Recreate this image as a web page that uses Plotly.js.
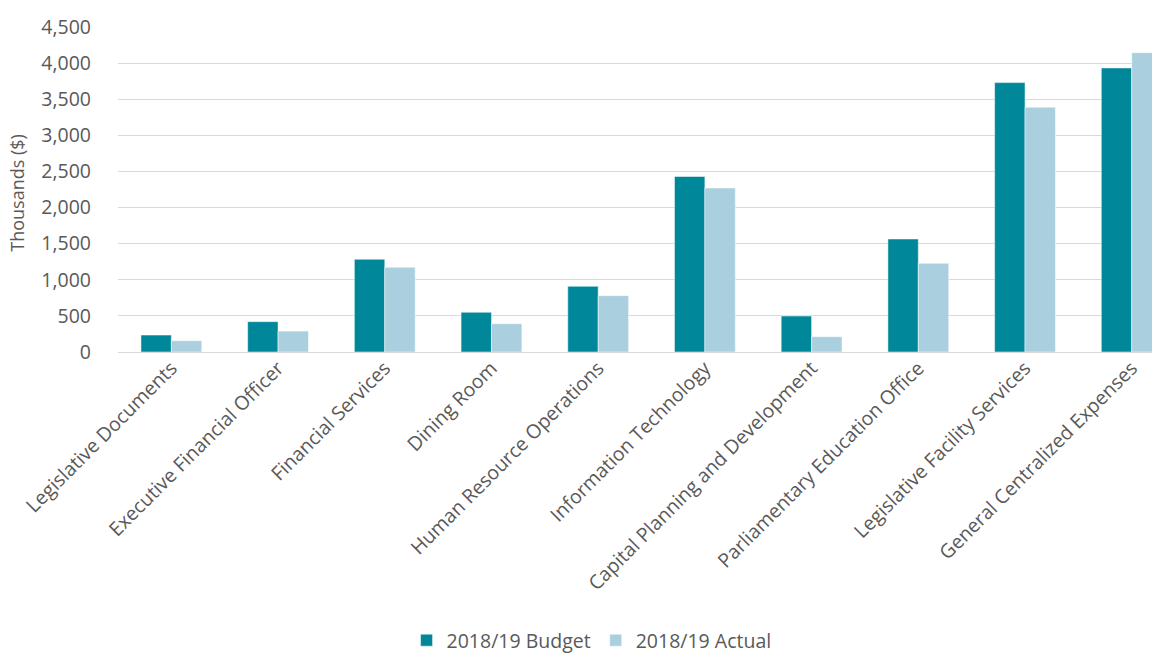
<!DOCTYPE html>
<html>
<head>
<meta charset="utf-8">
<script src="https://cdn.plot.ly/plotly-3.0.1.min.js"></script>
<style>
html,body{margin:0;padding:0;overflow:hidden;background:#fff;width:1152px;height:656px;}
#chart{width:1152px;height:656px;overflow:hidden;}
</style>
</head>
<body>
<div id="chart"></div>
<script>
const categories = [
  "Legislative Documents",
  "Executive Financial Officer",
  "Financial Services",
  "Dining Room",
  "Human Resource Operations",
  "Information Technology",
  "Capital Planning and Development",
  "Parliamentary Education Office",
  "Legislative Facility Services",
  "General Centralized Expenses"
];
const budget2018 = [235, 420, 1284, 550, 910, 2430, 498, 1565, 3730, 3933];
const actual2018 = [156, 290, 1173, 392, 780, 2270, 212, 1228, 3389, 4145];
const seriesNames = ["2018/19 Budget", "2018/19 Actual"];
const yTicks = [0, 500, 1000, 1500, 2000, 2500, 3000, 3500, 4000, 4500];
const yTitle = "Thousands ($)";

const fontFam = "'Open Sans', Lato, sans-serif";
const grey = "#595959";
const fs = 19.5;

const traces = [
  {type: "bar", name: seriesNames[0], x: categories, y: budget2018,
   marker: {color: "#00889a", line: {color: "#ffffff", width: 0.5}}},
  {type: "bar", name: seriesNames[1], x: categories, y: actual2018,
   marker: {color: "#aacfde", line: {color: "#ffffff", width: 0.5}}}
];

const layout = {
  width: 1152, height: 660,
  margin: {l: 118, r: 0, t: 27, b: 308},
  paper_bgcolor: "#ffffff", plot_bgcolor: "#ffffff",
  barmode: "group", bargap: 0.43, bargroupgap: 0,
  font: {family: fontFam, size: fs, color: grey},
  xaxis: {
    type: "category",
    range: [-0.5, 9.19],
    tickangle: -45,
    tickfont: {family: fontFam, size: fs, color: grey},
    showgrid: false, zeroline: false, showline: false,
    ticks: ""
  },
  yaxis: {
    range: [0, 4500],
    tickvals: yTicks,
    tickformat: ",d",
    tickfont: {family: fontFam, size: fs, color: grey},
    gridcolor: "#d9d9d9", gridwidth: 1,
    zeroline: true, zerolinecolor: "#d9d9d9", zerolinewidth: 1,
    showline: false, ticks: "",
    ticklabelstandoff: 26
  },
  annotations: [{
    text: yTitle, textangle: -90, showarrow: false,
    xref: "paper", yref: "paper", x: -0.0977, y: 0.49,
    xanchor: "center", yanchor: "middle",
    font: {family: fontFam, size: 18, color: grey}
  }],
  legend: {
    orientation: "h", x: 0.458, xanchor: "center", y: -0.948, yanchor: "bottom",
    font: {family: fontFam, size: fs, color: grey},
    itemwidth: 30
  },
  showlegend: true
};

Plotly.newPlot("chart", traces, layout, {displayModeBar: false, staticPlot: true});
</script>
</body>
</html>
